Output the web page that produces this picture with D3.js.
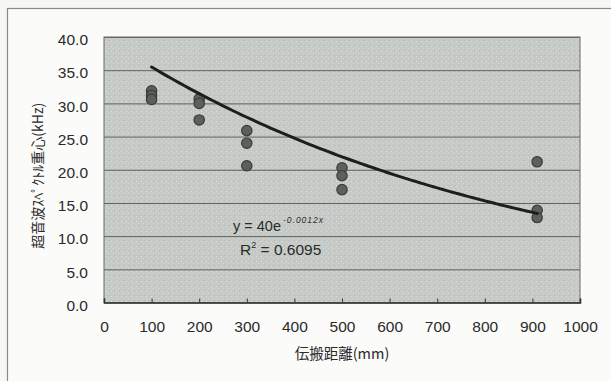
<!DOCTYPE html>
<html>
<head>
<meta charset="utf-8">
<script src="https://cdn.jsdelivr.net/npm/d3@7"></script>
<style>
  html, body { margin: 0; padding: 0; background: #f7f7f4; }
  svg { display: block; }
  text { font-family: "Liberation Sans", Arial, sans-serif; fill: #2a2a2a; }
  .jp { font-family: "Noto Sans CJK JP", sans-serif; }
</style>
</head>
<body>
<div id="chart"></div>
<script>
// measured points: propagation distance (mm) vs spectral centroid (kHz)
const distances = [100, 100, 100, 200, 200, 200, 300, 300, 300, 500, 500, 500, 910, 910, 910];
const centroids = [31.9, 31.2, 30.6, 30.7, 30.0, 27.5, 25.9, 24.0, 20.6, 20.3, 19.1, 17.0, 21.2, 13.9, 12.8];

// exponential trendline y = a * e^(b x), as printed on the chart
const trendCoef = [40, -0.0012];
const trendRange = [100, 910];

const xTicks = [0, 100, 200, 300, 400, 500, 600, 700, 800, 900, 1000];
const yTicks = [0, 5, 10, 15, 20, 25, 30, 35, 40];

const width = 611, height = 381;
const plot = { left: 104, right: 580, top: 37, bottom: 302.5 };

const svg = d3.select("#chart").append("svg")
  .attr("width", width)
  .attr("height", height);

// speckled grey fill for the plot area
const defs = svg.append("defs");
const pat = defs.append("pattern")
  .attr("id", "speckle")
  .attr("patternUnits", "userSpaceOnUse")
  .attr("width", 5).attr("height", 5);
pat.append("rect").attr("width", 5).attr("height", 5).attr("fill", "#c6cac6");
pat.append("rect").attr("x", 1).attr("y", 1).attr("width", 1).attr("height", 1).attr("fill", "#dde0dc");
pat.append("rect").attr("x", 3).attr("y", 3).attr("width", 1).attr("height", 1).attr("fill", "#d6d9d5");
pat.append("rect").attr("x", 4).attr("y", 0).attr("width", 1).attr("height", 1).attr("fill", "#b8bcb8");

// outer chart frame (right/bottom edges fall outside the crop)
svg.append("rect")
  .attr("x", 7.5).attr("y", 8.5)
  .attr("width", 640).attr("height", 400)
  .attr("fill", "#fbfbf9")
  .attr("stroke", "#8a8a8a")
  .attr("stroke-width", 1.2);

const x = d3.scaleLinear().domain([0, 1000]).range([plot.left, plot.right]);
const y = d3.scaleLinear().domain([0, 40]).range([plot.bottom, plot.top]);

svg.append("rect")
  .attr("x", plot.left).attr("y", plot.top)
  .attr("width", plot.right - plot.left)
  .attr("height", plot.bottom - plot.top)
  .attr("fill", "url(#speckle)");

// horizontal gridlines
const yGrid = d3.axisLeft(y).tickValues(yTicks).tickSize(-(plot.right - plot.left)).tickFormat("");
svg.append("g")
  .attr("transform", `translate(${plot.left},0)`)
  .call(yGrid)
  .call(g => g.select(".domain").remove())
  .call(g => g.selectAll("line").attr("stroke", "#5e605e").attr("stroke-width", 1));

// plot border
svg.append("rect")
  .attr("x", plot.left).attr("y", plot.top)
  .attr("width", plot.right - plot.left)
  .attr("height", plot.bottom - plot.top)
  .attr("fill", "none")
  .attr("stroke", "#6a6c6a")
  .attr("stroke-width", 1);

// x axis: inner ticks on bottom edge, labels below
const xAxis = d3.axisBottom(x).tickValues(xTicks).tickSize(-4).tickPadding(18).tickFormat(d3.format("d"));
svg.append("g")
  .attr("transform", `translate(0,${plot.bottom})`)
  .call(xAxis)
  .call(g => g.select(".domain").attr("stroke", "#333").attr("stroke-width", 1.6))
  .call(g => g.selectAll("line").attr("stroke", "#333"))
  .call(g => g.selectAll("text")
    .attr("font-size", 15.5)
    .attr("fill", "#2a2a2a")
    .attr("font-family", "Liberation Sans, Arial, sans-serif"));

// y axis labels
const yAxis = d3.axisLeft(y).tickValues(yTicks).tickSize(0).tickPadding(16).tickFormat(d3.format(".1f"));
svg.append("g")
  .attr("transform", `translate(${plot.left},0)`)
  .call(yAxis)
  .call(g => g.select(".domain").remove())
  .call(g => g.selectAll("text")
    .attr("font-size", 15.5)
    .attr("dy", "0.5em")
    .attr("fill", "#2a2a2a")
    .attr("font-family", "Liberation Sans, Arial, sans-serif"));

// scatter points
const points = distances.map((d, i) => ({ x: d, y: centroids[i] }));
svg.append("g")
  .selectAll("circle")
  .data(points)
  .join("circle")
  .attr("cx", d => x(d.x))
  .attr("cy", d => y(d.y))
  .attr("r", 5.2)
  .attr("fill", "#5c605c")
  .attr("stroke", "#3a3c3a")
  .attr("stroke-width", 1.2);

// trendline
const [a, b] = trendCoef;
const trendPts = d3.range(trendRange[0], trendRange[1] + 1, 10).map(v => [v, a * Math.exp(b * v)]);
svg.append("path")
  .datum(trendPts)
  .attr("fill", "none")
  .attr("stroke", "#1e1e1e")
  .attr("stroke-width", 3)
  .attr("stroke-linecap", "round")
  .attr("d", d3.line().x(d => x(d[0])).y(d => y(d[1])).curve(d3.curveMonotoneX));

// equation labels
const eq = svg.append("text").attr("x", 233).attr("y", 230.5).attr("font-size", 14.5);
eq.append("tspan").text("y = 40e");
eq.append("tspan").attr("dy", -8).attr("dx", 2).attr("font-size", 8.5).attr("font-style", "italic")
  .attr("letter-spacing", 1).text("-0.0012x");

const r2 = svg.append("text").attr("x", 240).attr("y", 255).attr("font-size", 15.5);
r2.append("tspan").text("R");
r2.append("tspan").attr("dy", -7).attr("font-size", 9).text("2");
r2.append("tspan").attr("dy", 7).text(" = 0.6095");

// axis titles
svg.append("text")
  .attr("class", "jp")
  .attr("transform", `translate(38,${(plot.top + plot.bottom) / 2 + 6}) rotate(-90)`)
  .attr("text-anchor", "middle")
  .attr("dy", "0.35em")
  .attr("font-size", 14)
  .text("超音波ｽﾍﾟｸﾄﾙ重心(kHz)");

svg.append("text")
  .attr("class", "jp")
  .attr("x", (plot.left + plot.right) / 2)
  .attr("y", 359)
  .attr("text-anchor", "middle")
  .attr("font-size", 14.5)
  .text("伝搬距離(mm)");
</script>
</body>
</html>
